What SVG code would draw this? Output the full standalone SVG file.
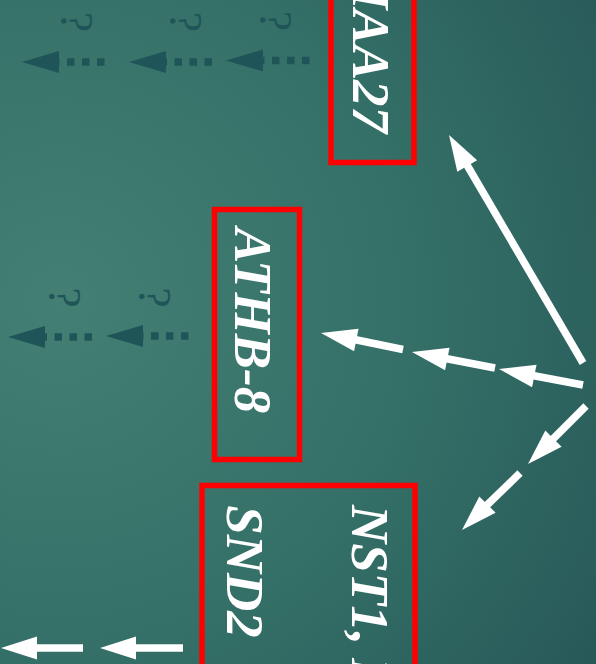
<svg xmlns="http://www.w3.org/2000/svg" xmlns:xlink="http://www.w3.org/1999/xlink" width="596" height="664" viewBox="0 0 596 664">
  <defs>
    <radialGradient id="bg" gradientUnits="userSpaceOnUse" cx="60" cy="300" r="640">
      <stop offset="0" stop-color="#437f73"/>
      <stop offset="0.55" stop-color="#347067"/>
      <stop offset="1" stop-color="#285959"/>
    </radialGradient>
    <!-- arrowheads pointing along -x, tip at origin -->
    <path id="headW" d="M0,0 L36,-11.5 L36,11.5 Z" fill="#ffffff"/>
    <path id="headD" d="M0,0 L37,-11 L37,11 Z" fill="#1f5558"/>
    <style>
      .box { fill: none; stroke: #ff0000; stroke-width: 5.5; }
      .label { font-family: "Liberation Serif", "Times New Roman", serif; font-style: italic; font-weight: bold; font-size: 53px; fill: #ffffff; }
      .q { font-family: "Liberation Serif", "Times New Roman", serif; font-size: 46px; fill: #1f5558; text-anchor: middle; }
      .shaft { stroke: #ffffff; stroke-width: 7.5; fill: none; }
      .dots { stroke: #1f5558; stroke-width: 7.5; stroke-dasharray: 7.5 7.5; fill: none; }
    </style>
  </defs>

  <rect width="596" height="664" fill="url(#bg)"/>

  <!-- nodes (slide is turned a quarter clockwise) -->
  <g id="node-iaa27">
    <rect class="box" x="331" y="-10" width="83" height="172.5"/>
    <text class="label" text-anchor="end" transform="translate(353,133) rotate(90)">IAA27</text>
  </g>
  <g id="node-athb8">
    <rect class="box" x="214.5" y="209.5" width="85" height="250"/>
    <text class="label" text-anchor="middle" transform="translate(235,320.5) rotate(90)">ATHB-8</text>
  </g>
  <g id="node-nst1-snd2">
    <rect class="box" x="202" y="485.5" width="213" height="200"/>
    <text class="label" text-anchor="start" transform="translate(352,505) rotate(90)">NST1, N</text>
    <text class="label" text-anchor="middle" transform="translate(227,571.5) rotate(90)">SND2</text>
  </g>

  <!-- unknown downstream targets -->
  <g id="unknown-marks">
    <text class="q" transform="translate(61,22) rotate(90)">?</text>
    <text class="q" transform="translate(170,22) rotate(90)">?</text>
    <text class="q" transform="translate(260,21) rotate(90)">?</text>
    <text class="q" transform="translate(49,297.5) rotate(90)">?</text>
    <text class="q" transform="translate(139,297.5) rotate(90)">?</text>
  </g>

  <g id="connectors">
    <!-- to IAA27 -->
    <line class="shaft" x1="467" y1="165" x2="583" y2="363"/>
    <use xlink:href="#headW" transform="translate(449,135) rotate(59.56)"/>

    <!-- to ATHB-8, broken into three -->
    <line class="shaft" x1="352" y1="339" x2="403" y2="349.5"/>
    <use xlink:href="#headW" transform="translate(321,333) rotate(11.2)"/>
    <line class="shaft" x1="443" y1="358" x2="495" y2="368"/>
    <use xlink:href="#headW" transform="translate(412,352) rotate(11.2)"/>
    <line class="shaft" x1="530" y1="375" x2="583" y2="385"/>
    <use xlink:href="#headW" transform="translate(499,369) rotate(11.2)"/>

    <!-- to NST1 / SND2, broken into two -->
    <line class="shaft" x1="551" y1="441" x2="586" y2="406"/>
    <use xlink:href="#headW" transform="translate(528,464) rotate(-45)"/>
    <line class="shaft" x1="485" y1="507" x2="520" y2="473"/>
    <use xlink:href="#headW" transform="translate(462,530) rotate(-45)"/>

    <!-- out of NST1 / SND2 -->
    <line class="shaft" x1="34" y1="648" x2="83" y2="648"/>
    <use xlink:href="#headW" transform="translate(1,648)"/>
    <line class="shaft" x1="133" y1="648" x2="183" y2="648"/>
    <use xlink:href="#headW" transform="translate(100,648)"/>

    <!-- dotted arrows from IAA27 -->
    <line class="dots" x1="104.5" y1="62" x2="40" y2="62"/>
    <use xlink:href="#headD" transform="translate(22,62)"/>
    <line class="dots" x1="212" y1="62" x2="150" y2="62"/>
    <use xlink:href="#headD" transform="translate(129,62)"/>
    <line class="dots" x1="309.5" y1="60.5" x2="245" y2="60.5"/>
    <use xlink:href="#headD" transform="translate(226,60.5)"/>

    <!-- dotted arrows from ATHB-8 -->
    <line class="dots" x1="92" y1="337" x2="30" y2="337"/>
    <use xlink:href="#headD" transform="translate(8,337)"/>
    <line class="dots" x1="188.5" y1="336" x2="125" y2="336"/>
    <use xlink:href="#headD" transform="translate(106,336)"/>
  </g>
</svg>
